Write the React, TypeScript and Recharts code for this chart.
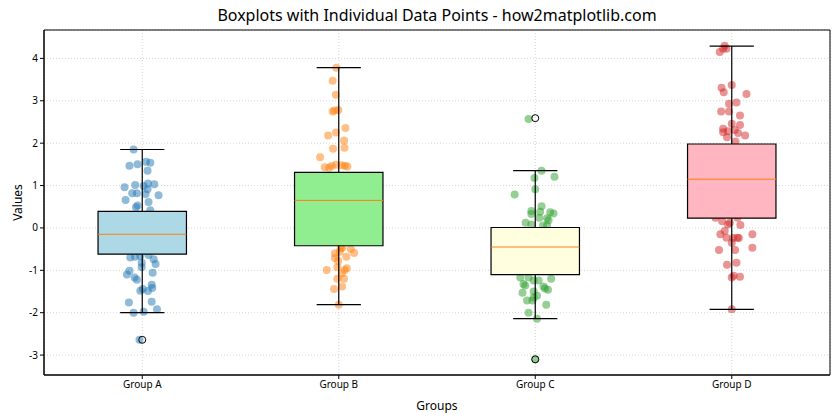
import React from "react";
import {
  ComposedChart, Scatter, XAxis, YAxis, CartesianGrid, ReferenceArea, ReferenceLine,
} from "recharts";

const groups = ["Group A", "Group B", "Group C", "Group D"];
const positions = [1, 2, 3, 4];
const boxFills = ["#add8e6", "#90ee90", "#ffffe0", "#ffb6c1"];
const pointColors = ["#1f77b4", "#ff7f0e", "#2ca02c", "#d62728"];

// box statistics
const q1 = [-0.62, -0.42, -1.1, 0.23];
const medians = [-0.15, 0.65, -0.45, 1.15];
const q3 = [0.39, 1.31, 0.01, 1.98];
const whiskerLow = [-2.0, -1.81, -2.14, -1.92];
const whiskerHigh = [1.85, 3.78, 1.35, 4.29];
const fliers = [[-2.64], [], [2.59, -3.1], []];

// individual points (value + horizontal jitter)
const valuesA = [1.85, 1.47, 1.5, 1.56, 1.54, 1.35, 0.96, 1.01, 0.99, 1.05, 1.03, 0.82, 0.82, 0.8, 0.91, 0.77, 0.66, 0.61, 0.49, 0.53, 0.42,
  -0.7, -0.68, -0.66, -0.64, -0.74, -0.85, -0.82, -0.93, -1.01, -1.1, -1.17, -1.22, -1.06, -1.44, -1.48, -1.34, -1.42, -1.49, -1.76, -1.74, -1.92, -2.0, -1.98, -2.64,
  0.25, -0.1, -0.35, 0.1, -0.5];
const jitterA = [-0.044, -0.065, -0.024, 0.019, 0.041, 0.027, -0.09, -0.036, 0.007, 0.029, 0.061, -0.051, -0.027, 0.017, 0.027, 0.083, -0.085, 0.032, -0.032, -0.024, 0.041,
  -0.061, -0.036, -0.01, 0.032, 0.058, 0.068, -0.003, -0.003, -0.065, -0.078, -0.039, -0.027, 0.053, 0.003, -0.01, 0.048, 0.051, 0.029, -0.068, 0.048, 0.075, -0.044, 0.007, -0.014,
  0.02, -0.03, 0.05, -0.06, 0.01];

const valuesB = [3.78, 3.47, 3.14, 2.75, 2.77, 2.78, 2.25, 2.18, 2.36, 2.06, 1.87, 1.89, 1.67, 1.43, 1.42, 1.46, 1.49, 1.48, 1.47, 1.45,
  -0.48, -0.47, -0.5, -0.59, -0.6, -0.56, -0.71, -0.68, -0.78, -0.93, -0.95, -0.99, -0.99, -1.07, -1.2, -1.2, -1.44, -1.38, -1.81,
  0.9, 0.3, -0.1, 1.0, 0.5, 0.0, 1.2, -0.3, 0.7, 0.2, 0.6];
const jitterB = [-0.012, -0.031, -0.015, -0.031, -0.022, -0.002, -0.014, -0.054, 0.034, 0.027, -0.029, 0.029, -0.095, -0.071, -0.049, -0.036, -0.014, 0.014, 0.031, 0.044,
  0.01, 0.018, 0.061, 0.078, -0.019, 0.005, -0.02, 0.039, -0.003, -0.007, 0.041, 0.031, -0.061, 0.015, -0.007, 0.027, -0.024, 0.017, 0,
  0.02, -0.04, 0.05, 0.01, -0.02, 0.03, -0.05, 0.04, 0, -0.01, 0.06];

const valuesC = [2.57, 1.35, 1.18, 1.21, 0.91, 0.79, 0.51, 0.4, 0.38, 0.37, 0.34, 0.33, 0.24, 0.23, 0.18, 0.12, 0.08, 0.06, 0.06,
  -1.17, -1.17, -1.24, -1.24, -1.2, -1.32, -1.36, -1.38, -1.43, -1.46, -1.5, -1.53, -1.6, -1.64, -1.71, -1.71, -1.81, -2.0, -2.14, -3.1,
  -0.2, -0.6, -0.9, -0.4, -0.7, -0.1, -1.0, -0.3, -0.5, -0.8, -0.55];
const jitterC = [-0.034, 0.032, -0.004, 0.098, 0, -0.105, 0.032, -0.02, 0.025, 0.076, 0.093, -0.02, 0.02, 0.06, 0.068, -0.049, -0.02, 0.039, 0.06,
  -0.076, -0.034, -0.008, 0.017, 0.081, -0.06, -0.051, 0.042, 0.05, 0.065, -0.008, -0.065, 0.009, -0.008, -0.042, -0.014, 0.056, -0.034, 0.009, 0,
  0.02, -0.04, 0.05, 0.01, -0.02, 0.03, -0.05, 0.04, 0, -0.01, 0.06];

const valuesD = [4.3, 4.23, 4.15, 4.23, 3.37, 3.31, 3.2, 3.16, 2.93, 2.96, 2.75, 2.75, 2.65, 2.46, 2.43, 2.34, 2.26, 2.28, 2.31, 2.24, 2.18, 2.14, 2.04,
  0.24, 0.16, 0.12, 0.24, 0.07, 0.08, -0.07, -0.15, -0.23, -0.24, -0.23, -0.24, -0.15, -0.35, -0.52, -0.52, -0.47, -0.87, -0.82, -1.17, -1.13, -1.15, -1.92,
  1.0, 0.6, 1.5, 1.2];
const jitterD = [-0.036, -0.027, -0.061, -0.044, 0, -0.052, -0.041, 0.075, -0.014, 0.024, -0.054, -0.014, 0.042, 0, 0.042, -0.044, -0.044, -0.019, 0.015, 0.032, 0.068, -0.024, 0.019,
  -0.083, -0.049, -0.01, 0.029, 0.044, -0.019, -0.036, -0.058, -0.027, 0.007, 0.029, 0.036, 0.105, 0, -0.065, 0.017, 0.105, -0.024, 0.024, 0, 0.01, 0.042, 0,
  0.02, -0.03, 0.04, -0.01];

const allValues = [valuesA, valuesB, valuesC, valuesD];
const allJitter = [jitterA, jitterB, jitterC, jitterD];

const yTicks = [-3, -2, -1, 0, 1, 2, 3, 4];
const yDomain = [-3.47, 4.67];
const xDomain = [0.5, 4.5];
const boxHalf = 0.225;
const capHalf = 0.1125;

const pointData = allValues.map((vals, g) =>
  vals.map((v, i) => ({ x: positions[g] + allJitter[g][i], y: v }))
);
const flierData = fliers.flatMap((f, g) => f.map((v) => ({ x: positions[g], y: v })));

const font = "'Noto Sans', 'Open Sans', sans-serif";

export default function App() {
  return (
    <div style={{ position: "absolute", left: 0, top: 0, width: 840, height: 420, background: "#fff", fontFamily: font }}>
      <div style={{ position: "absolute", top: 4, left: 44, width: 786, textAlign: "center", fontSize: 16, color: "#000" }}>
        Boxplots with Individual Data Points - how2matplotlib.com
      </div>
      <ComposedChart width={840} height={420} margin={{ top: 30, right: 10, bottom: 0, left: 0 }}>
        <CartesianGrid stroke="#d4d4d4" strokeDasharray="1 2" />
        <XAxis
          type="number" dataKey="x" domain={xDomain} ticks={positions} allowDataOverflow
          tickFormatter={(v: number) => groups[positions.indexOf(v)] ?? ""}
          tick={{ fontSize: 10, fill: "#000" }} tickSize={4} height={45}
          axisLine={{ stroke: "#000" }} tickLine={{ stroke: "#000" }}
          label={{ value: "Groups", position: "insideBottom", offset: 10, fontSize: 12, fill: "#000" }}
        />
        <YAxis
          type="number" dataKey="y" domain={yDomain} ticks={yTicks} allowDataOverflow width={44}
          tick={{ fontSize: 10, fill: "#000" }} tickSize={4}
          axisLine={{ stroke: "#000" }} tickLine={{ stroke: "#000" }}
          label={{ value: "Values", angle: -90, position: "insideLeft", offset: 18, fontSize: 12, fill: "#000", style: { textAnchor: "middle" } }}
        />
        {pointData.map((d, g) => (
          <Scatter
            key={groups[g]} data={d} isAnimationActive={false} zIndex={50}
            shape={(p: any) => <circle cx={p.cx} cy={p.cy} r={4} fill={pointColors[g]} fillOpacity={0.5} />}
          />
        ))}
        {positions.map((p, g) => (
          <ReferenceArea key={"box" + g} x1={p - boxHalf} x2={p + boxHalf} y1={q1[g]} y2={q3[g]} zIndex={700}
            fill={boxFills[g]} fillOpacity={1} stroke="#000" strokeWidth={1.2} />
        ))}
        {positions.map((p, g) => (
          <ReferenceLine key={"med" + g} segment={[{ x: p - boxHalf, y: medians[g] }, { x: p + boxHalf, y: medians[g] }]}
            zIndex={710} stroke="#ff7f0e" strokeWidth={1} />
        ))}
        {positions.map((p, g) => (
          <ReferenceLine key={"wh" + g} segment={[{ x: p, y: q3[g] }, { x: p, y: whiskerHigh[g] }]} zIndex={710} stroke="#000" strokeWidth={1.2} />
        ))}
        {positions.map((p, g) => (
          <ReferenceLine key={"wl" + g} segment={[{ x: p, y: q1[g] }, { x: p, y: whiskerLow[g] }]} zIndex={710} stroke="#000" strokeWidth={1.2} />
        ))}
        {positions.map((p, g) => (
          <ReferenceLine key={"ch" + g} segment={[{ x: p - capHalf, y: whiskerHigh[g] }, { x: p + capHalf, y: whiskerHigh[g] }]} zIndex={710} stroke="#000" strokeWidth={1.2} />
        ))}
        {positions.map((p, g) => (
          <ReferenceLine key={"cl" + g} segment={[{ x: p - capHalf, y: whiskerLow[g] }, { x: p + capHalf, y: whiskerLow[g] }]} zIndex={710} stroke="#000" strokeWidth={1.2} />
        ))}
        <Scatter
          data={flierData} isAnimationActive={false} zIndex={720}
          shape={(p: any) => <circle cx={p.cx} cy={p.cy} r={3.5} fill="none" stroke="#000" strokeWidth={1} />}
        />
        <ReferenceArea x1={xDomain[0]} x2={xDomain[1]} y1={yDomain[0]} y2={yDomain[1]} zIndex={730} fill="none" stroke="#000" strokeWidth={1} />
      </ComposedChart>
    </div>
  );
}
